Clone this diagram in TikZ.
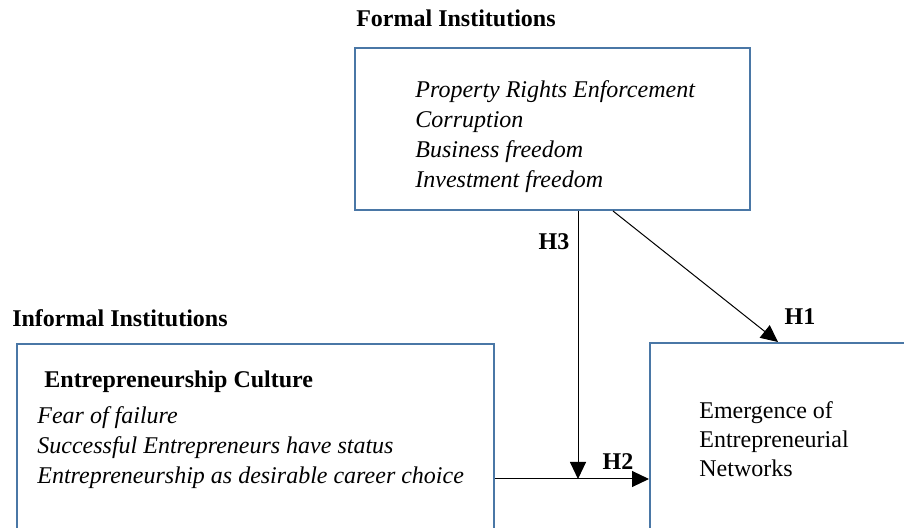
\documentclass[tikz,border=0pt]{standalone}
\usepackage{fontspec}
\setmainfont{Liberation Serif}
\usetikzlibrary{arrows.meta}
\definecolor{boxblue}{RGB}{74,119,166}
\begin{document}
\begin{tikzpicture}[x=0.5pt,y=-0.5pt,
  box/.style={draw=boxblue,line width=1pt,rectangle,inner sep=0pt},
  head/.style={font=\fontsize{12}{15}\selectfont\bfseries,inner sep=0pt},
  item/.style={font=\fontsize{12}{15}\selectfont\itshape,align=left,inner sep=0pt,anchor=west},
  hyp/.style={font=\fontsize{12}{15}\selectfont\bfseries,inner sep=0pt},
  link/.style={black,line width=0.5pt,-{Triangle[length=8.5pt,width=8pt]}}]
\clip (0,0) rectangle (904,528);
\node[box,minimum width=197.5pt,minimum height=81pt] (formal) at (552.5,129) {};
\node[box,minimum width=238.5pt,minimum height=100pt] (informal) at (255.5,444) {};
\node[box,minimum width=140pt,minimum height=100pt] (network) at (790,443) {};
\node[head] (formalhead) at (456,18) {Formal Institutions};
\node[head] (informalhead) at (120,318) {Informal Institutions};
\node[item] (formallist) at (415,137) {Property Rights Enforcement\\Corruption\\Business freedom\\Investment freedom};
\node[head,anchor=west] (culture) at (44,382) {Entrepreneurship Culture};
\node[item] (culturelist) at (37,448) {Fear of failure\\Successful Entrepreneurs have status\\Entrepreneurship as desirable career choice};
\node[font=\fontsize{12}{14.5}\selectfont,align=left,inner sep=0pt,anchor=west] (networktext) at (699,439) {Emergence of\\Entrepreneurial\\Networks};
\coordinate (h3end) at (578,479);
\draw[link] (formal.south -| h3end) -- (h3end);
\draw[link] (informal.east |- h3end) -- (network.west |- h3end);
\draw[link] (formal.south -| 613,0) -- (network.north -| 778,0);
\node[hyp] (h3) at (554,242) {H3};
\node[hyp] (h1) at (800,317) {H1};
\node[hyp] (h2) at (618,462) {H2};
\end{tikzpicture}
\end{document}
